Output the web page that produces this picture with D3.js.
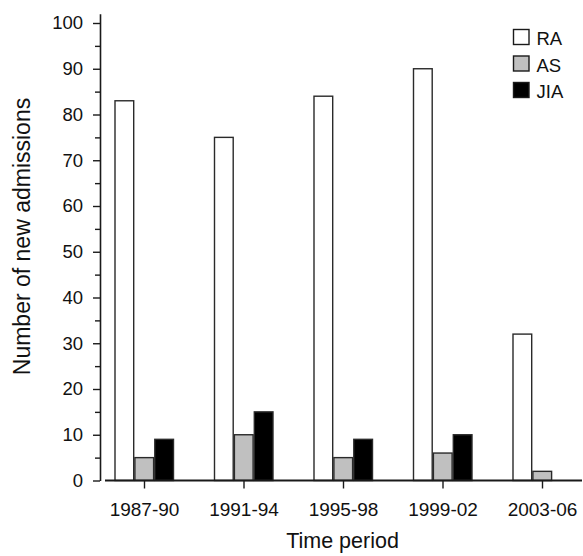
<!DOCTYPE html>
<html>
<head>
<meta charset="utf-8">
<script src="https://cdn.jsdelivr.net/npm/d3@7"></script>
<style>
  body { margin: 0; background: #fff; }
  svg { display: block; font-family: Arial, "Liberation Sans", sans-serif; }
</style>
</head>
<body>
<div id="chart"></div>
<script>
// data
const periods = ['1987-90', '1991-94', '1995-98', '1999-02', '2003-06'];
const seriesNames = ['RA', 'AS', 'JIA'];
const raValues = [83, 75, 84, 90, 32];
const asValues = [5, 10, 5, 6, 2];
const jiaValues = [9, 15, 9, 10, 0];
const yMajorTicks = [0, 10, 20, 30, 40, 50, 60, 70, 80, 90, 100];
const yMinorTicks = [5, 15, 25, 35, 45, 55, 65, 75, 85, 95];

const fills = { RA: '#ffffff', AS: '#c0c0c0', JIA: '#000000' };
const valuesBySeries = { RA: raValues, AS: asValues, JIA: jiaValues };

const width = 583, height = 556;
const axisX = 100, baseY = 480.5;

const svg = d3.select('#chart')
  .append('svg')
  .attr('width', width)
  .attr('height', height);

const y = d3.scaleLinear().domain([0, 102]).range([baseY, 13.85]);
const x = d3.scalePoint().domain(periods).range([144, 542]);
const inner = d3.scaleBand().domain(seriesNames).range([-29, 29.5]).paddingInner(0.06);

// bars
seriesNames.forEach(name => {
  svg.append('g')
    .selectAll('rect')
    .data(periods.map((p, i) => ({ p, v: valuesBySeries[name][i] })).filter(d => d.v > 0))
    .enter()
    .append('rect')
    .attr('x', d => x(d.p) + inner(name))
    .attr('y', d => y(d.v))
    .attr('width', inner.bandwidth())
    .attr('height', d => baseY - y(d.v))
    .attr('fill', fills[name])
    .attr('stroke', '#2a2a2a')
    .attr('stroke-width', 1.4);
});

// y axis
const yAxis = svg.append('g')
  .attr('transform', 'translate(' + axisX + ',0)')
  .call(d3.axisLeft(y).tickValues(yMajorTicks).tickSize(7).tickSizeOuter(0).tickPadding(10));
yAxis.select('.domain').attr('stroke', '#1a1a1a').attr('stroke-width', 1.6);
yAxis.selectAll('.tick line').attr('stroke', '#1a1a1a').attr('stroke-width', 1.4);
yAxis.selectAll('.tick text')
  .attr('font-size', '18.5px')
  .attr('fill', '#111')
  .attr('font-family', 'Arial, "Liberation Sans", sans-serif');

const yMinor = svg.append('g')
  .attr('transform', 'translate(' + axisX + ',0)')
  .call(d3.axisLeft(y).tickValues(yMinorTicks).tickSize(5).tickFormat(''));
yMinor.select('.domain').remove();
yMinor.selectAll('.tick line').attr('stroke', '#1a1a1a').attr('stroke-width', 1.4);

// x axis
const xAxis = svg.append('g')
  .attr('transform', 'translate(0,' + baseY + ')')
  .call(d3.axisBottom(x).tickSize(8).tickSizeOuter(0).tickPadding(14));
xAxis.select('.domain').remove();
xAxis.append('line')
  .attr('x1', 105).attr('x2', 582)
  .attr('y1', 0).attr('y2', 0)
  .attr('stroke', '#1a1a1a')
  .attr('stroke-width', 2);
xAxis.selectAll('.tick line').attr('stroke', '#1a1a1a').attr('stroke-width', 1.4);
xAxis.selectAll('.tick text')
  .attr('font-size', '19px')
  .attr('fill', '#111')
  .attr('font-family', 'Arial, "Liberation Sans", sans-serif');

// axis titles
svg.append('text')
  .attr('x', 342.5)
  .attr('y', 548)
  .attr('text-anchor', 'middle')
  .attr('font-size', '21.5px')
  .attr('fill', '#111')
  .text('Time period');

svg.append('text')
  .attr('transform', 'translate(30,236.5) rotate(-90)')
  .attr('text-anchor', 'middle')
  .attr('font-size', '23px')
  .attr('fill', '#111')
  .text('Number of new admissions');

// legend
const legend = svg.append('g').attr('transform', 'translate(513.5,29.5)');
seriesNames.forEach((name, i) => {
  const row = legend.append('g').attr('transform', 'translate(0,' + i * 26.5 + ')');
  row.append('rect')
    .attr('width', 15.5)
    .attr('height', 15)
    .attr('fill', fills[name])
    .attr('stroke', '#1a1a1a')
    .attr('stroke-width', 1.4);
  row.append('text')
    .attr('x', 23)
    .attr('y', 15.5)
    .attr('font-size', '18.5px')
    .attr('fill', '#111')
    .text(name);
});
</script>
</body>
</html>
